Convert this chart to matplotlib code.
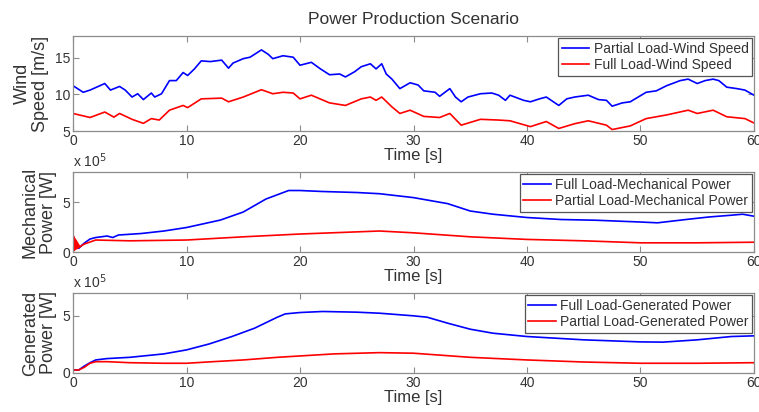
import numpy as np
import matplotlib
matplotlib.use('Agg')
import matplotlib.pyplot as plt

plt.rcParams['font.family'] = ['Liberation Sans', 'DejaVu Sans']

# wind speed [m/s]
t_ws_partial = [0, 0.9, 1.5, 2.8, 3.3, 4.1, 4.6, 5.2, 5.7, 6.2, 6.9, 7.2, 7.8, 8.5, 9.1, 9.7,
                10.1, 10.7, 11.3, 12.1, 13.1, 13.7, 14.1, 15.0, 15.6, 16.6, 17.2, 17.6, 18.5,
                19.4, 20.0, 21.0, 21.8, 22.6, 23.5, 24.0, 24.8, 25.4, 26.2, 26.7, 27.2, 27.6,
                28.1, 28.8, 29.7, 30.4, 30.9, 31.9, 32.3, 33.2, 33.7, 34.2, 34.8, 35.9, 36.9,
                37.5, 38.1, 38.5, 39.7, 40.3, 41.1, 41.7, 42.8, 43.5, 44.2, 45.4, 46.3, 47.0,
                47.5, 48.4, 49.1, 49.8, 50.5, 51.4, 52.3, 53.5, 54.2, 55.0, 55.7, 56.4, 56.9,
                57.6, 58.5, 59.2, 60.0]
ws_partial = [11.2, 10.3, 10.6, 11.5, 10.6, 11.1, 10.6, 9.65, 10.1, 9.3, 10.2, 9.65, 10.1, 11.9,
              11.9, 13.0, 12.6, 13.5, 14.6, 14.5, 14.7, 13.6, 14.3, 14.9, 15.1, 16.1, 15.5, 14.9,
              15.3, 15.1, 14.0, 14.4, 13.5, 12.7, 12.8, 12.4, 13.1, 13.8, 14.2, 13.5, 14.2, 12.8,
              12.1, 10.8, 11.6, 11.3, 10.5, 10.3, 9.75, 10.8, 9.65, 9.0, 9.65, 10.1, 10.2, 9.9,
              9.2, 9.9, 9.2, 9.0, 9.4, 9.65, 8.5, 9.4, 9.65, 9.9, 9.3, 9.2, 8.4, 8.85, 9.0, 9.65,
              10.3, 10.5, 11.2, 11.9, 12.1, 11.5, 11.9, 12.1, 11.9, 11.0, 10.8, 10.6, 9.9]

t_ws_full = [0, 1.5, 2.8, 3.6, 4.1, 5.2, 6.2, 6.9, 7.6, 8.5, 9.7, 10.1, 11.3, 13.1, 13.7, 15.0,
             16.6, 17.6, 18.5, 19.4, 20.0, 21.0, 22.6, 24.0, 25.4, 26.2, 26.7, 27.2, 28.1, 28.8,
             29.7, 30.9, 32.3, 33.2, 34.2, 35.9, 37.5, 38.5, 40.3, 41.7, 42.8, 44.2, 45.4, 47.0,
             47.5, 49.1, 50.5, 52.3, 54.2, 55.0, 56.4, 57.6, 59.2, 60.0]
ws_full = [7.4, 6.85, 7.6, 6.9, 7.4, 6.6, 6.05, 6.7, 6.5, 7.85, 8.5, 8.2, 9.4, 9.5, 9.0, 9.65,
           10.65, 10.1, 10.3, 10.2, 9.4, 9.9, 8.85, 8.5, 9.4, 9.65, 9.2, 9.65, 8.3, 7.4,
           7.85, 7.0, 6.85, 7.4, 5.8, 6.6, 6.5, 6.4, 5.6, 6.3, 5.35, 6.0, 6.4, 5.8,
           5.2, 5.7, 6.7, 7.2, 7.85, 7.4, 7.85, 6.95, 6.7, 6.1]

# mechanical power [x 1e5 W]
t_pm_full = [0, 0.15, 0.3, 0.5, 1, 1.5, 2, 3, 3.5, 4, 6, 8, 10, 11, 13, 15, 17, 19, 20, 22, 25,
             27, 30, 33, 35, 37, 40, 43, 46, 50, 51.5, 54, 56, 58, 59, 60]
pm_full = [1.7, 1.0, 0.5, 0.37, 0.9, 1.3, 1.45, 1.6, 1.45, 1.7, 1.85, 2.1, 2.45, 2.7, 3.2, 4.0,
           5.3, 6.15, 6.15, 6.05, 5.95, 5.83, 5.44, 4.84, 4.1, 3.78, 3.45, 3.25, 3.18, 3.0,
           2.92, 3.25, 3.5, 3.68, 3.78, 3.58]

t_pm_partial = [0, 0.05, 0.1, 0.15, 0.2, 0.25, 0.3, 0.35, 0.4, 0.45, 0.5, 0.6, 0.7, 1, 1.5, 2,
                5, 10, 15, 20, 27, 30, 35, 40, 45, 50, 55, 60]
pm_partial = [1.6, 0.1, 1.5, 0.2, 1.3, 0.3, 1.1, 0.35, 0.9, 0.4, 0.7, 0.5, 0.6, 0.8, 1.0, 1.2,
              1.12, 1.2, 1.52, 1.8, 2.1, 1.92, 1.52, 1.26, 1.12, 0.92, 0.92, 0.98]

# generated power [x 1e5 W]
t_pg = [0, 0.5, 1, 1.5, 2, 3, 5, 8, 10, 12, 14, 16, 18, 18.7, 20, 22, 25, 27, 30, 31.2, 33, 35,
        37, 40, 45, 50, 52, 55, 58, 60]
pg_full = [0.26, 0.26, 0.61, 0.9, 1.14, 1.26, 1.37, 1.67, 2.02, 2.54, 3.19, 3.92, 4.88, 5.17,
           5.29, 5.38, 5.32, 5.23, 5.0, 4.88, 4.36, 3.83, 3.48, 3.19, 2.9, 2.72, 2.7, 2.9,
           3.19, 3.25]
t_pg_partial = [0, 0.5, 1, 1.5, 2, 3, 5, 8, 10, 12, 15, 18, 20, 23, 27, 30, 35, 40, 45, 50, 55, 60]
pg_partial = [0.26, 0.26, 0.5, 0.85, 0.99, 0.99, 0.9, 0.85, 0.85, 0.97, 1.14, 1.37, 1.49, 1.67,
              1.78, 1.73, 1.37, 1.14, 0.96, 0.85, 0.85, 0.9]

BLUE = '#0000ff'
RED = '#ff0000'
TXT = '#333333'
EDGE = '#8c8c8c'

fig = plt.figure(figsize=(7.59, 4.12), dpi=100)
ax1 = fig.add_axes([0.0962, 0.682, 0.8972, 0.2306])
ax2 = fig.add_axes([0.0962, 0.3883, 0.8972, 0.1942])
ax3 = fig.add_axes([0.0962, 0.0947, 0.8972, 0.1942])


def style(ax, ylim, yticks, ylabel):
    ax.set_xlim(0, 60)
    ax.set_ylim(*ylim)
    ax.set_xticks(range(0, 61, 10))
    ax.set_yticks(yticks)
    ax.tick_params(direction='in', top=True, right=True, length=4, width=0.8,
                   color=EDGE, labelcolor=TXT, labelsize=10, pad=2)
    for s in ax.spines.values():
        s.set_color(EDGE)
        s.set_linewidth(0.9)
    ax.set_xlabel('Time [s]', fontsize=12, color=TXT, labelpad=0)
    ax.set_ylabel(ylabel, fontsize=13, color=TXT, labelpad=4, linespacing=1.1)


def legend(ax):
    leg = ax.legend(loc='upper right', fontsize=10, borderaxespad=0.15, fancybox=False,
                    framealpha=1, edgecolor='#555555', handlelength=2.0, handletextpad=0.3,
                    borderpad=0.25, labelspacing=0.2)
    leg.get_frame().set_linewidth(0.9)
    for txt in leg.get_texts():
        txt.set_color(TXT)


ax1.plot(t_ws_partial, ws_partial, color=BLUE, lw=1.2, label='Partial Load-Wind Speed')
ax1.plot(t_ws_full, ws_full, color=RED, lw=1.2, label='Full Load-Wind Speed')
style(ax1, (5, 18), [5, 10, 15], 'Wind\nSpeed [m/s]')
legend(ax1)
ax1.set_title('Power Production Scenario', fontsize=12.5, color=TXT, pad=9)

ax2.plot(t_pm_full, pm_full, color=BLUE, lw=1.2, label='Full Load-Mechanical Power')
ax2.plot(t_pm_partial, pm_partial, color=RED, lw=1.2, label='Partial Load-Mechanical Power')
style(ax2, (0, 8), [0, 5], 'Mechanical\nPower [W]')
legend(ax2)
ax2.text(0, 1.02, r'x 10$^{5}$', transform=ax2.transAxes, fontsize=10, color=TXT,
         ha='left', va='bottom')

ax3.plot(t_pg, pg_full, color=BLUE, lw=1.2, label='Full Load-Generated Power')
ax3.plot(t_pg_partial, pg_partial, color=RED, lw=1.2, label='Partial Load-Generated Power')
style(ax3, (0, 7), [0, 5], 'Generated\nPower [W]')
legend(ax3)
ax3.text(0, 1.02, r'x 10$^{5}$', transform=ax3.transAxes, fontsize=10, color=TXT,
         ha='left', va='bottom')

fig.savefig('out.png', dpi=100)
